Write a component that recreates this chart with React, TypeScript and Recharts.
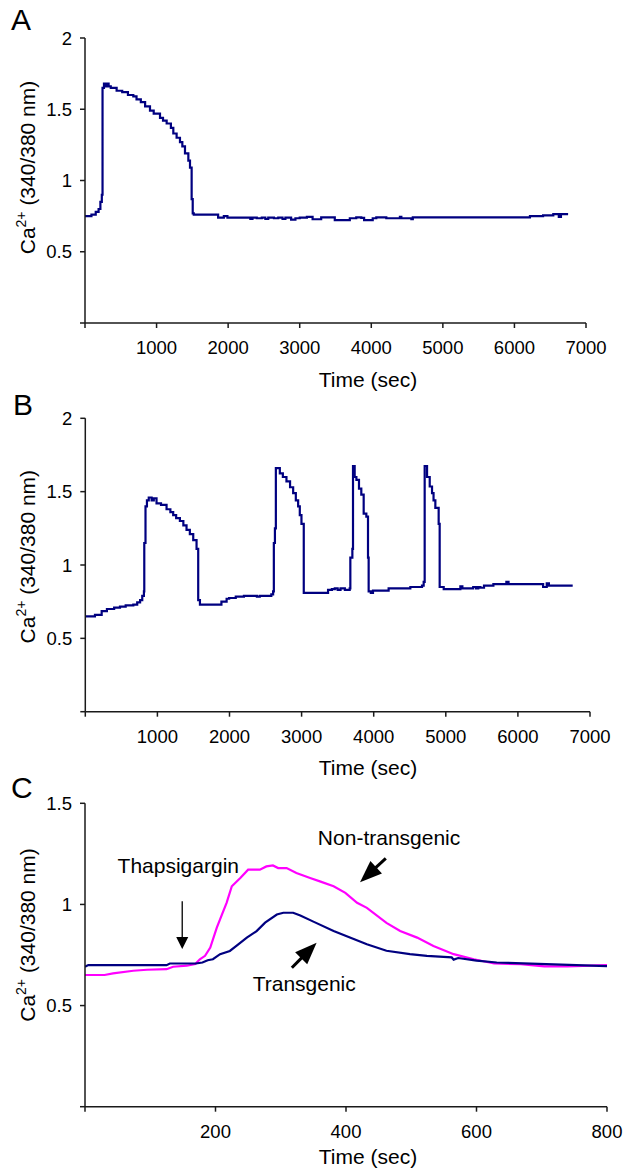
import React from 'react'
import { LineChart, Line, XAxis, YAxis, ReferenceLine, ReferenceDot } from 'recharts'

const FONT = '"Liberation Sans", Arial, sans-serif'
const NAVY = '#000080'
const MAGENTA = '#ff00ff'
const AXIS = '#1a1a1a'

// panel A - single long transient
const timeA = [0, 90, 150, 190, 215, 235, 245, 265, 280, 300, 330, 360, 442, 520, 600, 675, 720, 780, 840, 908, 960, 1048, 1090, 1141, 1200, 1234, 1280, 1327, 1360, 1397, 1444, 1467, 1490, 1505, 1520, 1860, 1940, 1990, 2310, 2340, 2400, 2470, 2520, 2560, 2640, 2700, 2760, 2800, 2880, 2940, 3000, 3100, 3180, 3300, 3400, 3490, 3700, 3790, 3860, 3900, 4020, 4070, 4170, 4210, 4400, 4420, 4560, 4580, 6217, 6400, 6543, 6620, 6650, 6750]
const caA = [0.75, 0.76, 0.78, 0.8, 0.85, 0.9, 1.65, 1.68, 1.66, 1.68, 1.66, 1.65, 1.63, 1.62, 1.6, 1.59, 1.57, 1.55, 1.52, 1.49, 1.47, 1.44, 1.42, 1.4, 1.37, 1.33, 1.3, 1.27, 1.24, 1.19, 1.14, 1.09, 0.87, 0.77, 0.76, 0.74, 0.75, 0.74, 0.73, 0.74, 0.735, 0.74, 0.73, 0.74, 0.735, 0.74, 0.73, 0.74, 0.725, 0.735, 0.74, 0.745, 0.728, 0.741, 0.741, 0.722, 0.735, 0.741, 0.738, 0.722, 0.735, 0.741, 0.741, 0.735, 0.745, 0.735, 0.728, 0.741, 0.75, 0.755, 0.764, 0.745, 0.764, 0.764]

// panel B - repeated transients
const timeB = [0, 134, 227, 300, 400, 481, 560, 666, 720, 760, 790, 813, 818, 835, 855, 880, 920, 950, 988, 1050, 1127, 1180, 1219, 1260, 1312, 1360, 1404, 1450, 1497, 1543, 1566, 1590, 1888, 1960, 1995, 2087, 2200, 2380, 2420, 2580, 2605, 2615, 2630, 2643, 2698, 2740, 2790, 2840, 2883, 2920, 2952, 2975, 2998, 3030, 3367, 3420, 3460, 3500, 3540, 3600, 3667, 3676, 3704, 3713, 3736, 3760, 3796, 3828, 3861, 3898, 3921, 3930, 3960, 3990, 4207, 4508, 4670, 4693, 4707, 4740, 4777, 4809, 4830, 4855, 4901, 4915, 4971, 5202, 5230, 5380, 5420, 5450, 5480, 5530, 5660, 5840, 5870, 6350, 6400, 6430, 6760]
const caB = [0.65, 0.66, 0.685, 0.7, 0.71, 0.716, 0.725, 0.73, 0.745, 0.76, 0.79, 0.82, 1.15, 1.4, 1.44, 1.46, 1.44, 1.455, 1.42, 1.41, 1.38, 1.36, 1.34, 1.32, 1.3, 1.27, 1.24, 1.21, 1.17, 1.11, 0.76, 0.73, 0.75, 0.77, 0.775, 0.785, 0.79, 0.785, 0.79, 0.8, 0.82, 1.15, 1.25, 1.66, 1.625, 1.6, 1.57, 1.53, 1.49, 1.44, 1.4, 1.34, 1.28, 0.81, 0.83, 0.835, 0.84, 0.83, 0.84, 0.83, 0.84, 1.05, 1.11, 1.675, 1.6, 1.58, 1.52, 1.48, 1.35, 1.33, 1.05, 0.82, 0.81, 0.825, 0.84, 0.85, 0.86, 0.885, 1.675, 1.6, 1.535, 1.49, 1.44, 1.39, 1.28, 0.85, 0.835, 0.855, 0.84, 0.85, 0.84, 0.85, 0.845, 0.86, 0.87, 0.885, 0.87, 0.85, 0.875, 0.86, 0.86]

// panel C - thapsigargin response
const timeTg = [0, 5, 125, 130, 170, 180, 188, 196, 207, 222, 232, 248, 263, 276, 294, 304, 319, 330, 350, 381, 406, 432, 462, 498, 524, 562, 565, 572, 600, 631, 707, 800]
const caTg = [0.692, 0.7, 0.7, 0.708, 0.708, 0.713, 0.724, 0.729, 0.754, 0.77, 0.795, 0.836, 0.868, 0.91, 0.95, 0.959, 0.959, 0.945, 0.915, 0.869, 0.836, 0.803, 0.771, 0.754, 0.746, 0.738, 0.727, 0.735, 0.722, 0.713, 0.705, 0.695]
const timeNonTg = [0, 30, 43, 74, 95, 125, 135, 156, 169, 176, 184, 192, 202, 210, 217, 225, 238, 250, 268, 278, 288, 296, 309, 324, 345, 360, 381, 399, 417, 432, 462, 483, 509, 534, 565, 596, 627, 668, 704, 739, 775, 800]
const caNonTg = [0.651, 0.651, 0.659, 0.672, 0.677, 0.68, 0.692, 0.697, 0.705, 0.729, 0.746, 0.787, 0.885, 0.951, 1.008, 1.09, 1.131, 1.172, 1.172, 1.188, 1.193, 1.18, 1.18, 1.155, 1.131, 1.114, 1.09, 1.057, 1.008, 0.983, 0.909, 0.869, 0.836, 0.795, 0.754, 0.729, 0.708, 0.705, 0.694, 0.694, 0.697, 0.7]

const ticksLong = [0, 1000, 2000, 3000, 4000, 5000, 6000, 7000]
const ticksShort = [0, 200, 400, 600, 800]
const ticksCa2 = [0, 0.5, 1, 1.5, 2]
const ticksCa15 = [0, 0.5, 1, 1.5]

const notesC = [
  { text: 'Thapsigargin', t: 143, v: 1.156 },
  { text: 'Non-transgenic', t: 466, v: 1.296 },
  { text: 'Transgenic', t: 336, v: 0.574 },
]
const arrowsC = [
  { t1: 149, v1: 1.016, t2: 149, v2: 0.78, thick: false },
  { t1: 461, v1: 1.228, t2: 421.5, v2: 1.11, thick: true },
  { t1: 317, v1: 0.687, t2: 355, v2: 0.811, thick: true },
]

const zip = (t: number[], v: number[]) => t.map((x, i) => ({ t: x, ca: v[i] }))

const hideZero = (v: number) => (v === 0 ? '' : String(v))

const Arrow = (props: any) => {
  const { x1, y1, x2, y2, thick } = props
  const dx = x2 - x1
  const dy = y2 - y1
  const len = Math.sqrt(dx * dx + dy * dy) || 1
  const ux = dx / len
  const uy = dy / len
  const headLen = thick ? 22 : 12
  const headW = thick ? 17 : 12
  const bx = x2 - ux * headLen
  const by = y2 - uy * headLen
  const nx = -uy * headW / 2
  const ny = ux * headW / 2
  return (
    <g>
      <line x1={x1} y1={y1} x2={bx + ux} y2={by + uy} stroke="#000" strokeWidth={thick ? 3 : 1.3} />
      <polygon points={`${x2},${y2} ${bx + nx},${by + ny} ${bx - nx},${by - ny}`} fill="#000" />
    </g>
  )
}

function Panel({ top, height, margin, data, xTicks, yTicks, yMax, xMax, step, children }: any) {
  return (
    <LineChart
      width={626}
      height={height}
      margin={margin}
      style={{ position: 'absolute', left: 0, top }}
    >
      <XAxis
        type="number"
        dataKey="t"
        domain={[0, xMax]}
        ticks={xTicks}
        tickFormatter={hideZero}
        height={40}
        stroke={AXIS}
        strokeWidth={1.5}
        tickSize={5}
        tickMargin={13}
        tick={{ fill: '#000', fontSize: 18.5, fontFamily: FONT }}
        allowDataOverflow
      />
      <YAxis
        type="number"
        domain={[0, yMax]}
        ticks={yTicks}
        tickFormatter={hideZero}
        width={60}
        stroke={AXIS}
        strokeWidth={1.5}
        tickSize={5}
        tickMargin={8}
        tick={{ fill: '#000', fontSize: 18.5, fontFamily: FONT }}
      />
      {data.map((d: any, i: number) => (
        <Line
          key={i}
          data={d.points}
          dataKey="ca"
          type={step ? 'stepAfter' : 'linear'}
          stroke={d.color}
          strokeWidth={2.2}
          dot={false}
          isAnimationActive={false}
        />
      ))}
      {children}
    </LineChart>
  )
}

function YTitle({ x, y }: { x: number; y: number }) {
  return (
    <text transform={`translate(${x},${y}) rotate(-90)`} textAnchor="middle" fontSize={21} fontFamily={FONT} fill="#000">
      Ca<tspan dy={-9} fontSize={14}>2+</tspan>
      <tspan dy={9}>{' (340/380 nm)'}</tspan>
    </text>
  )
}

export default function App() {
  return (
    <div style={{ position: 'absolute', left: 0, top: 0, width: 626, height: 1169, background: '#fff' }}>
      <Panel
        top={0}
        height={390}
        margin={{ top: 38, right: 40, bottom: 27, left: 25 }}
        data={[{ points: zip(timeA, caA), color: NAVY }]}
        xTicks={ticksLong}
        yTicks={ticksCa2}
        xMax={7000}
        yMax={2}
        step
      />
      <Panel
        top={390}
        height={390}
        margin={{ top: 28.3, right: 36, bottom: 28.3, left: 25.3 }}
        data={[{ points: zip(timeB, caB), color: NAVY }]}
        xTicks={ticksLong}
        yTicks={ticksCa2}
        xMax={7000}
        yMax={2}
        step
      />
      <Panel
        top={780}
        height={389}
        margin={{ top: 23.3, right: 19, bottom: 22.3, left: 25 }}
        data={[
          { points: zip(timeNonTg, caNonTg), color: MAGENTA },
          { points: zip(timeTg, caTg), color: NAVY },
        ]}
        xTicks={ticksShort}
        yTicks={ticksCa15}
        xMax={800}
        yMax={1.5}
      >
        {arrowsC.map((a, i) => (
          <ReferenceLine
            key={'a' + i}
            segment={[{ x: a.t1, y: a.v1 }, { x: a.t2, y: a.v2 }]}
            shape={(p: any) => <Arrow {...p} thick={a.thick} />}
          />
        ))}
        {notesC.map((n, i) => (
          <ReferenceDot
            key={'n' + i}
            x={n.t}
            y={n.v}
            r={0}
            shape={(p: any) => (
              <text x={p.cx} y={p.cy} textAnchor="middle" fontSize={21} fontFamily={FONT} fill="#000">
                {n.text}
              </text>
            )}
          />
        ))}
      </Panel>
      <svg width={626} height={1169} style={{ position: 'absolute', left: 0, top: 0, pointerEvents: 'none' }}>
        <g fontFamily={FONT} fontSize={30} fill="#000">
          <text x={11} y={30}>A</text>
          <text x={13} y={415}>B</text>
          <text x={11} y={798}>C</text>
        </g>
        <g fontFamily={FONT} fontSize={21} fill="#000" textAnchor="middle">
          <text x={368} y={386.5}>Time (sec)</text>
          <text x={368} y={774.5}>Time (sec)</text>
          <text x={368} y={1164}>Time (sec)</text>
        </g>
        <YTitle x={35} y={167.5} />
        <YTitle x={35} y={556.7} />
        <YTitle x={35} y={935} />
      </svg>
    </div>
  )
}
